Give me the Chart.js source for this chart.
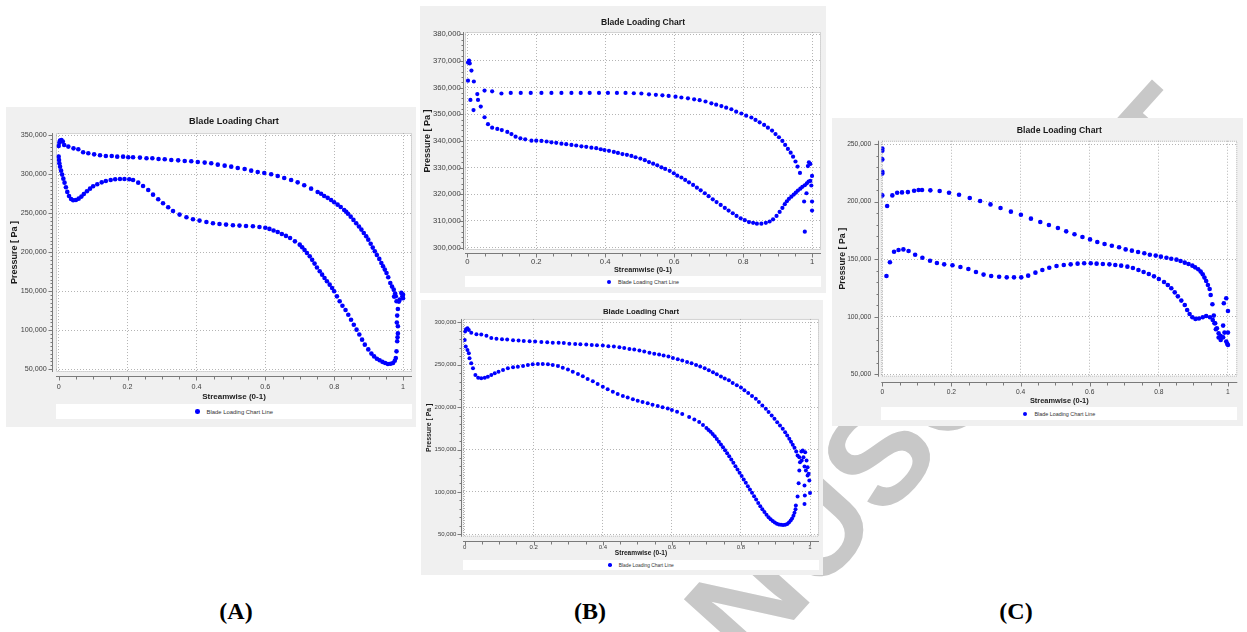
<!DOCTYPE html>
<html>
<head>
<meta charset="UTF-8">
<title>Blade Loading Charts</title>
<script src="https://cdn.jsdelivr.net/npm/chart.js"></script>
<style>
    body {
        margin: 0;
        width: 1247px;
        height: 632px;
        background: #fff;
        position: relative;
        overflow: hidden;
        font-family: 'Liberation Sans', Arial, sans-serif;
    }
    #mark { position: absolute; left: 0; top: 0; }
    .panel { position: absolute; background: #f0f0f0; }
    .panel canvas { position: absolute; left: 0; top: 0; }
    .legend {
        position: absolute;
        background: #fff;
        display: flex;
        align-items: center;
        justify-content: center;
        color: #333;
        white-space: nowrap;
    }
    .legend .dot { display: inline-block; border-radius: 50%; margin-right: 7px; }
    .tag {
        position: absolute;
        top: 598px;
        line-height: 24px;
        font: bold 24px 'Liberation Serif', 'Times New Roman', serif;
        transform: translateX(-50%);
    }
</style>
</head>
<body>
<svg id="mark" width="1247" height="632">
    <text x="604" y="831" transform="rotate(-48 604 831)" font-family="Liberation Sans, Arial, sans-serif"
          font-weight="bold" font-size="139" fill="#c8c8c8">MANUSCRIPT</text>
</svg>

<div class="panel" style="left:6px;top:107px;width:410px;height:320px">
    <canvas id="cA" width="410" height="320"></canvas>
    <div class="legend" id="legA"></div>
</div>
<div class="panel" style="left:420px;top:6px;width:406px;height:287px">
    <canvas id="cB1" width="406" height="287"></canvas>
    <div class="legend" id="legB1"></div>
</div>
<div class="panel" style="left:421px;top:300px;width:402px;height:275px">
    <canvas id="cB2" width="402" height="275"></canvas>
    <div class="legend" id="legB2"></div>
</div>
<div class="panel" style="left:832px;top:118px;width:411px;height:308px">
    <canvas id="cC" width="411" height="308"></canvas>
    <div class="legend" id="legC"></div>
</div>

<div class="tag" style="left:236px">(A)</div>
<div class="tag" style="left:590px">(B)</div>
<div class="tag" style="left:1016px">(C)</div>

<script>
    // streamwise position (0-1), pressure in thousands of Pa
    const aUpper = [[0,336.3],[0.002,340.6],[0.004,343.2],[0.008,344],[0.012,341.9],[0.016,337.6],[0.028,335.5],[0.043,333.3],[0.057,332.1],[0.071,328.2],[0.086,326.9],[0.103,325.6],[0.12,324.4],[0.137,323.5],[0.154,323.5],[0.17,322.6],[0.187,322.6],[0.202,321.8],[0.216,321.8],[0.236,321.4],[0.255,320.5],[0.272,320.5],[0.29,319.7],[0.308,319.2],[0.327,318.4],[0.347,317.9],[0.366,317.1],[0.385,316.7],[0.404,315.8],[0.424,315],[0.443,314.1],[0.462,312.4],[0.482,311.1],[0.501,309.8],[0.52,308.1],[0.54,306.8],[0.559,304.7],[0.578,303],[0.597,301.7],[0.617,300],[0.636,297.9],[0.655,295.3],[0.675,292.7],[0.694,289.7],[0.713,285.9],[0.733,281.6],[0.752,277.3],[0.762,275],[0.771,272.2],[0.781,269.8],[0.791,267.1],[0.8,264.2],[0.81,261.1],[0.819,258],[0.829,254.3],[0.835,252],[0.84,249.5],[0.848,245.7],[0.856,241.5],[0.864,237.3],[0.872,233],[0.879,229.1],[0.886,224.8],[0.893,220.5],[0.899,216.2],[0.906,211],[0.912,206],[0.918,201.3],[0.924,196.5],[0.931,191.5],[0.937,186.3],[0.942,182],[0.947,177.8],[0.952,173.5],[0.957,168],[0.963,160.7],[0.968,156],[0.973,152.1],[0.977,147]];
    const aLower = [[0,322.6],[0.001,318.4],[0.002,314.1],[0.004,309.8],[0.007,304.7],[0.01,299.6],[0.0135,294.4],[0.017,289.3],[0.021,283.3],[0.025,277.4],[0.03,272.2],[0.036,268.4],[0.042,266.7],[0.05,267.1],[0.058,268.8],[0.066,271.4],[0.073,274.8],[0.082,278.2],[0.091,281.6],[0.1,284.6],[0.112,287.2],[0.125,289.7],[0.137,291.5],[0.151,292.7],[0.164,293.6],[0.178,294],[0.191,294],[0.205,293.6],[0.216,292.7],[0.231,289.3],[0.245,285],[0.26,279.9],[0.274,273.9],[0.289,268],[0.303,262.8],[0.318,257.7],[0.332,253],[0.351,248.3],[0.371,244.9],[0.39,242.3],[0.409,240.6],[0.429,238.9],[0.448,237.2],[0.467,236.3],[0.486,235.5],[0.506,234.6],[0.525,234.2],[0.544,233.8],[0.564,233.3],[0.583,232.5],[0.6,231.5],[0.612,230],[0.624,228],[0.636,226],[0.648,223.5],[0.66,221],[0.672,218.4],[0.686,214],[0.7,209.8],[0.707,206.5],[0.714,203],[0.721,199],[0.729,195],[0.736,190.3],[0.743,185.5],[0.75,180.5],[0.758,175.6],[0.765,171.3],[0.772,167],[0.779,162.8],[0.787,158.5],[0.794,154.3],[0.8,150],[0.808,143.5],[0.816,137.2],[0.824,131.5],[0.833,126],[0.841,120],[0.849,113.5],[0.857,107],[0.865,100.8],[0.873,94.5],[0.881,88],[0.889,81.6],[0.899,75.5],[0.908,70.1],[0.916,66.5],[0.924,63.5],[0.932,61.5],[0.94,59.5],[0.948,58],[0.956,56.8],[0.964,57],[0.971,58.1],[0.976,61],[0.979,64.5]];
    const aTrail = [[0.981,73],[0.983,85.9],[0.984,91],[0.985,96],[0.985,105.1],[0.982,110],[0.983,118.8],[0.985,127.3],[0.981,137.2],[0.979,143.6],[0.974,143.2],[0.988,136.8],[0.99,139.3],[0.995,147.9],[0.998,143.5],[1,145.7],[1,141]];

    const b1Upper = [[0.002,369.4],[0.005,370.1],[0.007,369.1],[0.012,366.4],[0.019,362.3],[0.029,357.6],[0.05,358.9],[0.072,358.6],[0.099,357.8],[0.126,358],[0.155,358],[0.184,358],[0.215,358],[0.244,358],[0.273,358],[0.302,358],[0.329,358],[0.355,358],[0.382,358],[0.408,358],[0.434,358],[0.459,358],[0.483,357.9],[0.505,357.8],[0.527,357.5],[0.547,357.3],[0.566,357.1],[0.584,356.9],[0.604,356.6],[0.621,356.3],[0.64,356],[0.658,355.6],[0.674,355.3],[0.691,354.8],[0.708,354.1],[0.722,353.6],[0.737,353.1],[0.751,352.5],[0.766,351.9],[0.78,351],[0.795,350.3],[0.809,349.5],[0.824,348.8],[0.836,347.9],[0.848,347],[0.861,346],[0.872,345],[0.884,343.9],[0.894,342.6],[0.904,341.4],[0.914,340],[0.922,338.5],[0.93,337],[0.938,335.6],[0.945,334.1],[0.952,332.3],[0.958,330.4],[0.965,328]];
    const b1Lower = [[0.002,362.6],[0.009,355.4],[0.018,351.6],[0.031,355.4],[0.039,352.9],[0.05,348.9],[0.06,346.3],[0.072,345],[0.087,344.5],[0.1,344.1],[0.116,343.4],[0.128,342.6],[0.14,341.6],[0.154,341],[0.168,340.6],[0.186,340.1],[0.2,340.1],[0.215,340],[0.23,339.8],[0.244,339.5],[0.258,339.3],[0.273,339],[0.287,338.8],[0.302,338.5],[0.316,338.3],[0.331,338],[0.345,337.8],[0.36,337.5],[0.374,337.3],[0.387,336.9],[0.398,336.6],[0.411,336.3],[0.425,335.9],[0.437,335.5],[0.45,335.1],[0.463,334.8],[0.476,334.4],[0.488,333.9],[0.502,333.4],[0.515,332.8],[0.527,332.1],[0.539,331.5],[0.551,330.9],[0.563,330.1],[0.574,329.5],[0.587,328.8],[0.599,327.9],[0.609,327],[0.621,326.3],[0.632,325.4],[0.643,324.5],[0.655,323.5],[0.666,322.5],[0.677,321.5],[0.689,320.4],[0.7,319.3],[0.712,318.1],[0.723,317.1],[0.735,316],[0.747,314.9],[0.758,313.9],[0.77,312.9],[0.781,311.9],[0.793,311],[0.805,310.3],[0.817,309.6],[0.829,309.3],[0.84,309],[0.853,309],[0.866,309.3],[0.877,309.8],[0.887,310.6],[0.897,311.9],[0.906,313.4],[0.914,314.9],[0.921,316.3],[0.927,317.4],[0.933,318.3],[0.94,319.1],[0.947,319.9],[0.953,320.6],[0.959,321.4],[0.966,322.1],[0.972,322.8],[0.979,323.4],[0.985,324.1],[0.99,324.8],[0.995,325]];
    const b1Trail = [[0.977,317.3],[0.979,306],[0.984,320.4],[0.988,330.6],[0.991,332],[0.995,331.4],[0.998,323.3],[1,326.9],[1,317.3],[1,313.9]];

    const b2Upper = [[0.001,289],[0.004,291.7],[0.008,292.9],[0.012,291],[0.019,287.5],[0.034,286],[0.048,285.5],[0.063,284],[0.077,281.5],[0.092,280.7],[0.108,280],[0.123,279.6],[0.14,278.8],[0.156,278.4],[0.171,278],[0.188,277.6],[0.204,277.2],[0.222,276.8],[0.239,276.4],[0.255,276],[0.272,276],[0.287,275.6],[0.303,274.8],[0.32,274.4],[0.335,274],[0.352,273.7],[0.368,273.3],[0.383,272.9],[0.4,272.5],[0.416,271.7],[0.432,271.3],[0.448,270.5],[0.462,269.7],[0.477,268.6],[0.491,267.8],[0.506,266.6],[0.52,265.4],[0.535,264.2],[0.549,263],[0.563,261.9],[0.576,260.7],[0.59,259.5],[0.603,257.9],[0.617,256.4],[0.63,254.8],[0.644,253.2],[0.657,251.6],[0.67,249.7],[0.682,247.9],[0.695,245.8],[0.707,243.4],[0.719,241],[0.73,238.7],[0.742,236.2],[0.753,233.7],[0.765,231.5],[0.776,228.5],[0.788,225.8],[0.8,223],[0.81,220],[0.821,216.5],[0.832,213],[0.843,209.8],[0.852,206],[0.862,202],[0.872,198],[0.88,194.2],[0.889,190.2],[0.897,186.2],[0.905,182.2],[0.913,178.3],[0.921,174.4],[0.928,170.2],[0.934,166.4],[0.94,162.6],[0.945,159],[0.95,155.5],[0.955,152],[0.96,147.5],[0.964,142.9]];
    const b2Lower = [[0,279.2],[0.003,271.3],[0.008,267.4],[0.012,263.4],[0.014,257.5],[0.019,251.6],[0.024,245.8],[0.031,237.9],[0.039,234.7],[0.048,234],[0.058,234.7],[0.067,235.9],[0.077,237.9],[0.087,239.9],[0.098,241.8],[0.111,243.8],[0.125,245.8],[0.14,246.9],[0.154,247.7],[0.169,248.5],[0.183,249.7],[0.197,250.5],[0.212,250.9],[0.226,250.9],[0.241,250.5],[0.255,249.7],[0.27,248.5],[0.284,246.5],[0.299,244.2],[0.313,241.8],[0.328,239.1],[0.342,236.3],[0.356,233.2],[0.371,230.4],[0.385,227.3],[0.4,224.1],[0.414,221],[0.429,218.2],[0.443,215.5],[0.458,213.1],[0.472,211.2],[0.487,209.2],[0.501,207.6],[0.515,206],[0.53,204.5],[0.544,202.9],[0.559,201.3],[0.573,199.8],[0.588,198.2],[0.6,196.5],[0.615,194.5],[0.63,192],[0.65,188.2],[0.665,185.5],[0.679,182.3],[0.69,178.8],[0.7,175.3],[0.706,173],[0.712,170.8],[0.718,168.3],[0.724,165.5],[0.73,162.3],[0.736,159.2],[0.742,156],[0.748,152.6],[0.754,149.2],[0.76,145.6],[0.766,142],[0.772,138.2],[0.778,134.3],[0.784,130.3],[0.79,126.5],[0.796,122.6],[0.802,118.7],[0.808,114.7],[0.814,110.8],[0.82,106.8],[0.826,102.8],[0.832,98.9],[0.838,95],[0.844,91],[0.85,87],[0.856,83.1],[0.862,79.5],[0.868,76.2],[0.874,73],[0.88,70.2],[0.886,67.8],[0.892,65.8],[0.898,64],[0.904,62.6],[0.91,61.7],[0.916,61.2],[0.922,61],[0.928,61.3],[0.934,62.2],[0.939,63.8],[0.944,66.2],[0.948,68.8],[0.952,72],[0.955,75.5],[0.958,79.5]];
    const b2Trail = [[0.969,141],[0.971,135],[0.969,125.2],[0.967,110.2],[0.964,94.5],[0.959,83.9],[0.975,147.5],[0.979,148.8],[0.986,146.9],[0.981,141],[0.976,137],[0.99,137],[0.993,129],[0.996,121.3],[0.998,113.4],[0.993,119.3],[0.988,125.2],[0.984,130],[0.984,107.5],[0.985,95.7],[0.984,85.8],[1,98.8]];

    const cUpper = [[0,246.2],[0,244.2],[0,236.7],[0,226],[0,224.5],[0,205.4],[0.014,196.2],[0.029,205.4],[0.043,207.7],[0.057,208],[0.074,208.3],[0.092,209.5],[0.105,210.1],[0.115,210.1],[0.139,209.8],[0.166,209.2],[0.193,207.7],[0.222,206],[0.253,203.1],[0.283,200.5],[0.313,197.6],[0.342,194.4],[0.372,191.3],[0.401,188.6],[0.43,185.2],[0.457,182.3],[0.482,179.7],[0.508,177.1],[0.532,174.2],[0.556,171.6],[0.579,169.3],[0.601,167.2],[0.622,164.9],[0.643,163.2],[0.664,161.7],[0.685,160.3],[0.704,158.5],[0.722,157.4],[0.74,156.2],[0.758,155.1],[0.774,153.9],[0.791,153.1],[0.806,152.2],[0.822,151.3],[0.836,150.4],[0.851,149.6],[0.863,148.4],[0.875,147],[0.886,145.8],[0.897,144.4],[0.905,142.9],[0.914,141.2],[0.921,139.2],[0.927,136.8],[0.932,134],[0.937,131.1],[0.942,127.6],[0.947,124.1],[0.95,118.9],[0.955,110.8],[0.959,101],[0.963,94.3],[0.968,90],[0.973,85.6],[0.979,83.3]];
    const cLower = [[0.012,135.4],[0.022,147.3],[0.034,156.5],[0.047,158],[0.061,158.5],[0.076,157.1],[0.095,153.9],[0.116,151.3],[0.138,148.7],[0.158,146.7],[0.179,145.5],[0.203,144.7],[0.226,143.2],[0.249,141.5],[0.271,138.9],[0.293,136.6],[0.315,135.4],[0.338,134.8],[0.36,134.2],[0.381,134.2],[0.402,134.2],[0.422,135.7],[0.443,138.3],[0.463,140.6],[0.483,142.6],[0.504,144.1],[0.525,144.9],[0.545,145.5],[0.565,146.1],[0.584,146.4],[0.603,146.4],[0.62,146.1],[0.638,145.8],[0.657,145.5],[0.674,144.9],[0.691,144.4],[0.709,143.5],[0.725,142.3],[0.741,140.6],[0.756,138.9],[0.771,137.1],[0.786,135.1],[0.8,132.8],[0.815,130.2],[0.826,127.6],[0.836,124.7],[0.846,121.2],[0.855,117.7],[0.865,114],[0.875,110.2],[0.882,105.9],[0.889,102.4],[0.897,99.5],[0.906,98.1],[0.916,98.4],[0.927,99.5],[0.937,100.7],[0.948,99.5],[0.956,97.2],[0.961,94.3]];
    const cTrail = [[0.965,89.1],[0.973,81.9],[0.979,79.8],[0.986,82.1],[0.99,86.2],[0.995,78.4],[0.998,76.4],[1,75.5],[0.986,92.3],[0.988,111.7],[0.995,116],[1,105],[1,86.2]];

    // tick labels
    const xTicks = [0, 0.2, 0.4, 0.6, 0.8, 1];
    const aYTicks = [50000, 100000, 150000, 200000, 250000, 300000, 350000];
    const b1YTicks = [300000, 310000, 320000, 330000, 340000, 350000, 360000, 370000, 380000];
    const b2YTicks = [50000, 100000, 150000, 200000, 250000, 300000];
    const cYTicks = [50000, 100000, 150000, 200000, 250000];

    const FONT = "'Liberation Sans', Arial, sans-serif";

    const panels = [
        { canvas: 'cA', legend: 'legA', series: [aUpper, aLower, aTrail], yTicks: aYTicks,
          xMin: -0.0078, xMax: 1.026, yMin: 46500, yMax: 352900, minorY: 5000,
          padRight: 3, padBottom: 25, yWidth: 50, xHeight: 30,
          titleSize: 9.2, titleTop: 8.5, titleBottom: 6.5,
          tickSize: 7.2, yTickGap: 9.3, xTickGap: 10.8,
          xTitleSize: 8, yTitleSize: 9, yTitlePad: 3.6,
          legTop: 297, legHeight: 15, legFont: 5.9, dot: 4.5, radius: 2.3, gapY: 2.7, gapX: 4 },
        { canvas: 'cB1', legend: 'legB1', series: [b1Upper, b1Lower, b1Trail], yTicks: b1YTicks,
          xMin: -0.0067, xMax: 1.026, yMin: 299110, yMax: 380860, minorY: 2000,
          padRight: 5, padBottom: 18.6, yWidth: 45, xHeight: 24.4,
          titleSize: 8.6, titleTop: 11.8, titleBottom: 3.9,
          tickSize: 7.7, yTickGap: 4.3, xTickGap: 7.4,
          xTitleSize: 7.3, yTitleSize: 9, yTitlePad: 2.6,
          legTop: 270, legHeight: 11, legFont: 5.4, dot: 4, radius: 2.1, gapY: 1.5, gapX: 2.5 },
        { canvas: 'cB2', legend: 'legB2', series: [b2Upper, b2Lower, b2Trail], yTicks: b2YTicks,
          xMin: -0.0049, xMax: 1.026, yMin: 47200, yMax: 303900, minorY: 10000,
          padRight: 3.3, padBottom: 17.7, yWidth: 42, xHeight: 20.6,
          titleSize: 7.8, titleTop: 7.3, titleBottom: 2.3,
          tickSize: 6, yTickGap: 6.7, xTickGap: 7,
          xTitleSize: 6.6, yTitleSize: 6.9, yTitlePad: 3.9,
          legTop: 260, legHeight: 10, legFont: 4.9, dot: 3.5, radius: 2, gapY: 1, gapX: 4.3 },
        { canvas: 'cC', legend: 'legC', series: [cUpper, cLower, cTrail], yTicks: cYTicks,
          xMin: -0.0029, xMax: 1.027, yMin: 47900, yMax: 252900, minorY: 10000,
          padRight: 5.7, padBottom: 20.6, yWidth: 49.3, xHeight: 28.7,
          titleSize: 8.7, titleTop: 7.8, titleBottom: 4.5,
          tickSize: 6.7, yTickGap: 10, xTickGap: 11.3,
          xTitleSize: 7.4, yTitleSize: 8.8, yTitlePad: 5.7,
          legTop: 289, legHeight: 13, legFont: 5.4, dot: 4, radius: 2.3, gapY: 2.6, gapX: 5 }
    ];

    // white plot area, dotted frame and the offset axes with their tick marks
    const cfxAxesPlugin = {
        id: 'cfxAxes',
        beforeDraw(chart) {
            const { ctx, chartArea: a } = chart;
            ctx.save();
            ctx.fillStyle = '#fff';
            ctx.fillRect(a.left, a.top, a.right - a.left, a.bottom - a.top);
            ctx.restore();
        },
        afterDraw(chart, args, opts) {
            const { ctx, chartArea: a } = chart;
            const x = chart.scales.x, y = chart.scales.y;
            ctx.save();
            ctx.lineWidth = 1;
            ctx.strokeStyle = '#a8a8a8';
            ctx.setLineDash([1, 1]);
            ctx.strokeRect(a.left + 0.5, a.top + 0.5, a.right - a.left - 1, a.bottom - a.top - 1);
            ctx.setLineDash([]);

            ctx.strokeStyle = '#7a7a7a';
            const ax = Math.round(a.left - opts.gapY) - 0.5;
            const ay = Math.round(a.bottom + opts.gapX) + 0.5;
            ctx.beginPath();
            ctx.moveTo(ax, a.top);
            ctx.lineTo(ax, a.bottom);
            ctx.moveTo(a.left, ay);
            ctx.lineTo(a.right, ay);

            const first = Math.ceil(y.min / opts.minorY);
            const last = Math.floor(y.max / opts.minorY);
            for (let i = first; i <= last; i++) {
                const v = i * opts.minorY;
                const py = Math.round(y.getPixelForValue(v)) + 0.5;
                const len = opts.yTicks.includes(v) ? 4 : 2;
                ctx.moveTo(ax, py);
                ctx.lineTo(ax - len, py);
            }
            for (let i = 0; i <= 20; i++) {
                const v = i * 0.05;
                const px = Math.round(x.getPixelForValue(v)) + 0.5;
                const len = i % 4 === 0 ? 4 : 3;
                ctx.moveTo(px, ay);
                ctx.lineTo(px, ay + len);
            }
            ctx.stroke();
            ctx.restore();
        }
    };

    // legend as html in a white strip under the plot
    const htmlLegendPlugin = {
        id: 'htmlLegend',
        afterUpdate(chart, args, options) {
            const box = document.getElementById(options.containerID);
            const area = chart.chartArea;
            box.style.left = area.left + 'px';
            box.style.width = (area.right - area.left) + 'px';
            box.style.top = options.top + 'px';
            box.style.height = options.height + 'px';

            while (box.firstChild) {
                box.firstChild.remove();
            }

            const items = chart.options.plugins.legend.labels.generateLabels(chart);
            items.forEach(item => {
                const dot = document.createElement('span');
                dot.className = 'dot';
                dot.style.background = item.fillStyle;
                dot.style.width = options.dot + 'px';
                dot.style.height = options.dot + 'px';

                const text = document.createElement('span');
                text.style.fontSize = options.fontSize + 'px';
                text.textContent = item.text;

                box.appendChild(dot);
                box.appendChild(text);
            });
        }
    };

    const toPoints = (list) => list.map(p => ({ x: p[0], y: p[1] * 1000 }));

    const drawPanel = function(p) {
        const data = [].concat(...p.series.map(toPoints));

        new Chart(document.getElementById(p.canvas), {
            type: 'scatter',
            data: {
                datasets: [{
                    label: 'Blade Loading Chart Line',
                    data: data,
                    pointRadius: p.radius,
                    pointBorderWidth: 0,
                    pointBackgroundColor: '#0000ff',
                    backgroundColor: '#0000ff',
                    borderColor: '#0000ff'
                }]
            },
            options: {
                responsive: false,
                animation: false,
                events: [],
                layout: { padding: { left: 0, top: 0, right: p.padRight, bottom: p.padBottom } },
                scales: {
                    x: {
                        type: 'linear',
                        min: p.xMin,
                        max: p.xMax,
                        afterBuildTicks: (scale) => { scale.ticks = xTicks.map(v => ({ value: v })); },
                        afterFit: (scale) => { scale.height = p.xHeight; },
                        ticks: {
                            autoSkip: false,
                            maxRotation: 0,
                            padding: 0,
                            color: '#404040',
                            font: { family: FONT, size: p.tickSize },
                            callback: (v) => String(Math.round(v * 10) / 10)
                        },
                        grid: { color: '#b4b4b4', lineWidth: 1, drawTicks: true, tickLength: p.xTickGap, tickColor: 'rgba(0,0,0,0)' },
                        border: { display: false, dash: [1, 2] },
                        title: {
                            display: true,
                            text: 'Streamwise (0-1)',
                            color: '#1a1a1a',
                            padding: 0,
                            font: { family: FONT, size: p.xTitleSize, weight: 'bold' }
                        }
                    },
                    y: {
                        type: 'linear',
                        min: p.yMin,
                        max: p.yMax,
                        afterBuildTicks: (scale) => { scale.ticks = p.yTicks.map(v => ({ value: v })); },
                        afterFit: (scale) => { scale.width = p.yWidth; },
                        ticks: {
                            autoSkip: false,
                            padding: 0,
                            color: '#404040',
                            font: { family: FONT, size: p.tickSize },
                            callback: (v) => v.toLocaleString('en-US')
                        },
                        grid: { color: '#b4b4b4', lineWidth: 1, drawTicks: true, tickLength: p.yTickGap, tickColor: 'rgba(0,0,0,0)' },
                        border: { display: false, dash: [1, 2] },
                        title: {
                            display: true,
                            text: 'Pressure [ Pa ]',
                            color: '#1a1a1a',
                            padding: { top: p.yTitlePad, bottom: 0 },
                            font: { family: FONT, size: p.yTitleSize, weight: 'bold' }
                        }
                    }
                },
                plugins: {
                    title: {
                        display: true,
                        fullSize: false,
                        text: 'Blade Loading Chart',
                        color: '#1a1a1a',
                        padding: { top: p.titleTop, bottom: p.titleBottom },
                        font: { family: FONT, size: p.titleSize, weight: 'bold' }
                    },
                    legend: { display: false },
                    tooltip: { enabled: false },
                    htmlLegend: { containerID: p.legend, top: p.legTop, height: p.legHeight, fontSize: p.legFont, dot: p.dot },
                    cfxAxes: { gapX: p.gapX, gapY: p.gapY, minorY: p.minorY, yTicks: p.yTicks }
                }
            },
            plugins: [cfxAxesPlugin, htmlLegendPlugin]
        });
    };

    panels.forEach(drawPanel);
</script>
</body>
</html>
